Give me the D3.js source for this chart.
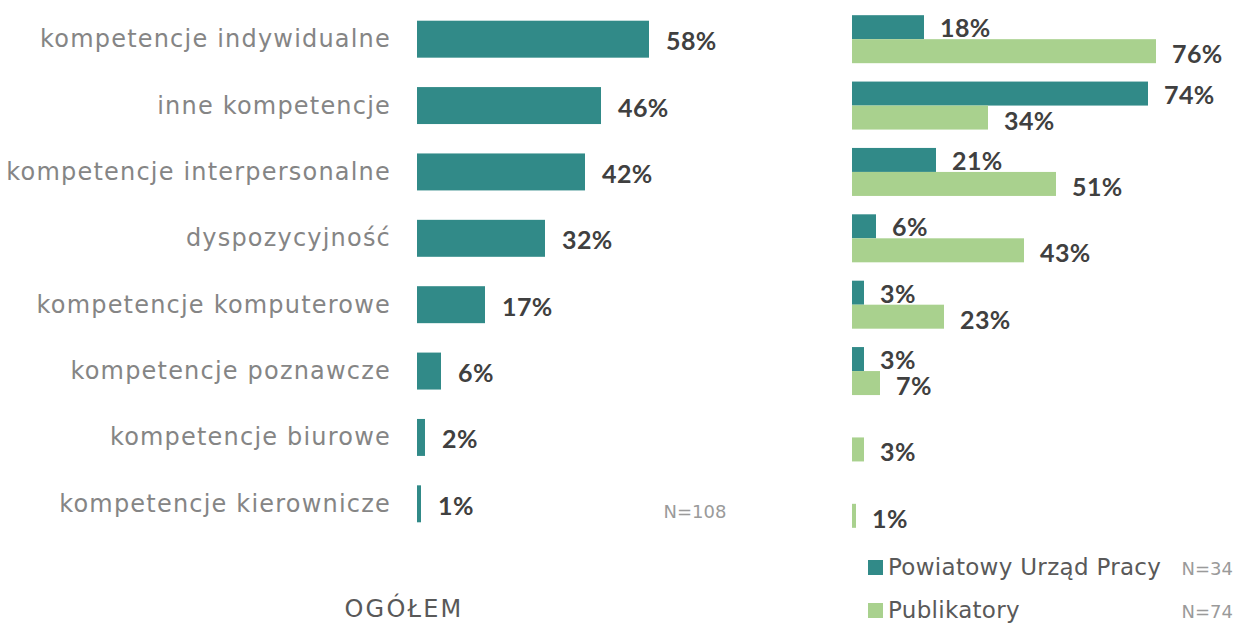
<!DOCTYPE html>
<html>
<head>
<meta charset="utf-8">
<script src="https://cdn.jsdelivr.net/npm/d3@7"></script>
<style>
  body { margin: 0; background: #fff; }
  svg { display: block; }
</style>
</head>
<body>
<svg id="chart" width="1235" height="623"></svg>
<script>
// categories (top to bottom)
let categories = [
  "kompetencje indywidualne",
  "inne kompetencje",
  "kompetencje interpersonalne",
  "dyspozycyjność",
  "kompetencje komputerowe",
  "kompetencje poznawcze",
  "kompetencje biurowe",
  "kompetencje kierownicze"
];
// overall (N=108)
let totalValues = [58, 46, 42, 32, 17, 6, 2, 1];
// Powiatowy Urząd Pracy (N=34)
let pupValues = [18, 74, 21, 6, 3, 3, 0, 0];
// Publikatory (N=74)
let pubValues = [76, 34, 51, 43, 23, 7, 3, 1];

let seriesNames = ["Powiatowy Urząd Pracy", "Publikatory"];
let seriesN = ["N=34", "N=74"];

let tealColor = "#318a88";
let greenColor = "#a9d18e";
let labelColor = "#858585";
let valueColor = "#404040";
let legendColor = "#595959";

let svg = d3.select("#chart");

let y = d3.scaleBand()
  .domain(categories)
  .range([6, 537])
  .paddingInner(0.443)
  .paddingOuter(0.2215);

// ---- left: overall ----
let leftX0 = 417;
let xLeft = d3.scaleLinear().domain([0, 100]).range([leftX0, leftX0 + 400]);

let leftData = categories.map((c, i) => ({cat: c, value: totalValues[i]}));

svg.selectAll(".catLabel")
  .data(leftData)
  .enter()
  .append("text")
  .attr("class", "catLabel")
  .attr("x", 391)
  .attr("y", d => y(d.cat) + y.bandwidth() / 2 + 8)
  .attr("text-anchor", "end")
  .style("font-family", "DejaVu Sans")
  .style("font-size", "24px")
  .style("letter-spacing", "1.2px")
  .style("fill", labelColor)
  .text(d => d.cat);

svg.selectAll(".leftBar")
  .data(leftData)
  .enter()
  .append("rect")
  .attr("class", "leftBar")
  .attr("x", xLeft(0))
  .attr("y", d => y(d.cat))
  .attr("width", d => xLeft(d.value) - xLeft(0))
  .attr("height", y.bandwidth())
  .attr("fill", tealColor);

svg.selectAll(".leftValue")
  .data(leftData)
  .enter()
  .append("text")
  .attr("class", "leftValue")
  .attr("x", d => xLeft(d.value) + 17)
  .attr("y", d => y(d.cat) + y.bandwidth() / 2 + 11)
  .style("font-family", "Lato")
  .style("font-weight", "bold")
  .style("font-size", "25px")
  .style("letter-spacing", "0.4px")
  .style("fill", valueColor)
  .text(d => d.value + "%");

svg.append("text")
  .attr("x", 695)
  .attr("y", 518)
  .attr("text-anchor", "middle")
  .style("font-family", "DejaVu Sans")
  .style("font-size", "18px")
  .style("fill", "#9a9a9a")
  .text("N=108");

svg.append("text")
  .attr("x", 404)
  .attr("y", 617)
  .attr("text-anchor", "middle")
  .style("font-family", "DejaVu Sans")
  .style("font-size", "24px")
  .style("letter-spacing", "2.2px")
  .style("fill", legendColor)
  .text("OGÓŁEM");

// ---- right: by source ----
let rightX0 = 852;
let xRight = d3.scaleLinear().domain([0, 100]).range([rightX0, rightX0 + 400]);
let ySub = d3.scaleBand().domain(seriesNames).range([-24, 24]);
let colors = d3.scaleOrdinal().domain(seriesNames).range([tealColor, greenColor]);

let rightData = [];
categories.forEach((c, i) => {
  rightData.push({cat: c, series: seriesNames[0], value: pupValues[i]});
  rightData.push({cat: c, series: seriesNames[1], value: pubValues[i]});
});
rightData = rightData.filter(d => d.value > 0);

svg.selectAll(".rightBar")
  .data(rightData)
  .enter()
  .append("rect")
  .attr("class", "rightBar")
  .attr("x", xRight(0))
  .attr("y", d => y(d.cat) + y.bandwidth() / 2 + ySub(d.series))
  .attr("width", d => xRight(d.value) - xRight(0))
  .attr("height", ySub.bandwidth())
  .attr("fill", d => colors(d.series));

svg.selectAll(".rightValue")
  .data(rightData)
  .enter()
  .append("text")
  .attr("class", "rightValue")
  .attr("x", d => xRight(d.value) + 16)
  .attr("y", d => y(d.cat) + y.bandwidth() / 2 + ySub(d.series) + ySub.bandwidth() / 2
    + (d.series === seriesNames[0] ? 10 : 12))
  .style("font-family", "Lato")
  .style("font-weight", "bold")
  .style("font-size", "25px")
  .style("letter-spacing", "0.4px")
  .style("fill", valueColor)
  .text(d => d.value + "%");

// legend
let legendY = [560, 603];
seriesNames.forEach((s, i) => {
  svg.append("rect")
    .attr("x", 868)
    .attr("y", legendY[i])
    .attr("width", 15)
    .attr("height", 15)
    .attr("fill", colors(s));
  svg.append("text")
    .attr("x", 888)
    .attr("y", legendY[i] + 15)
    .style("font-family", "DejaVu Sans")
    .style("font-size", "23px")
    .style("letter-spacing", "0.3px")
    .style("fill", legendColor)
    .text(s);
  svg.append("text")
    .attr("x", 1233)
    .attr("y", legendY[i] + 15)
    .attr("text-anchor", "end")
    .style("font-family", "DejaVu Sans")
    .style("font-size", "18px")
    .style("fill", "#9a9a9a")
    .text(seriesN[i]);
});
</script>
</body>
</html>
